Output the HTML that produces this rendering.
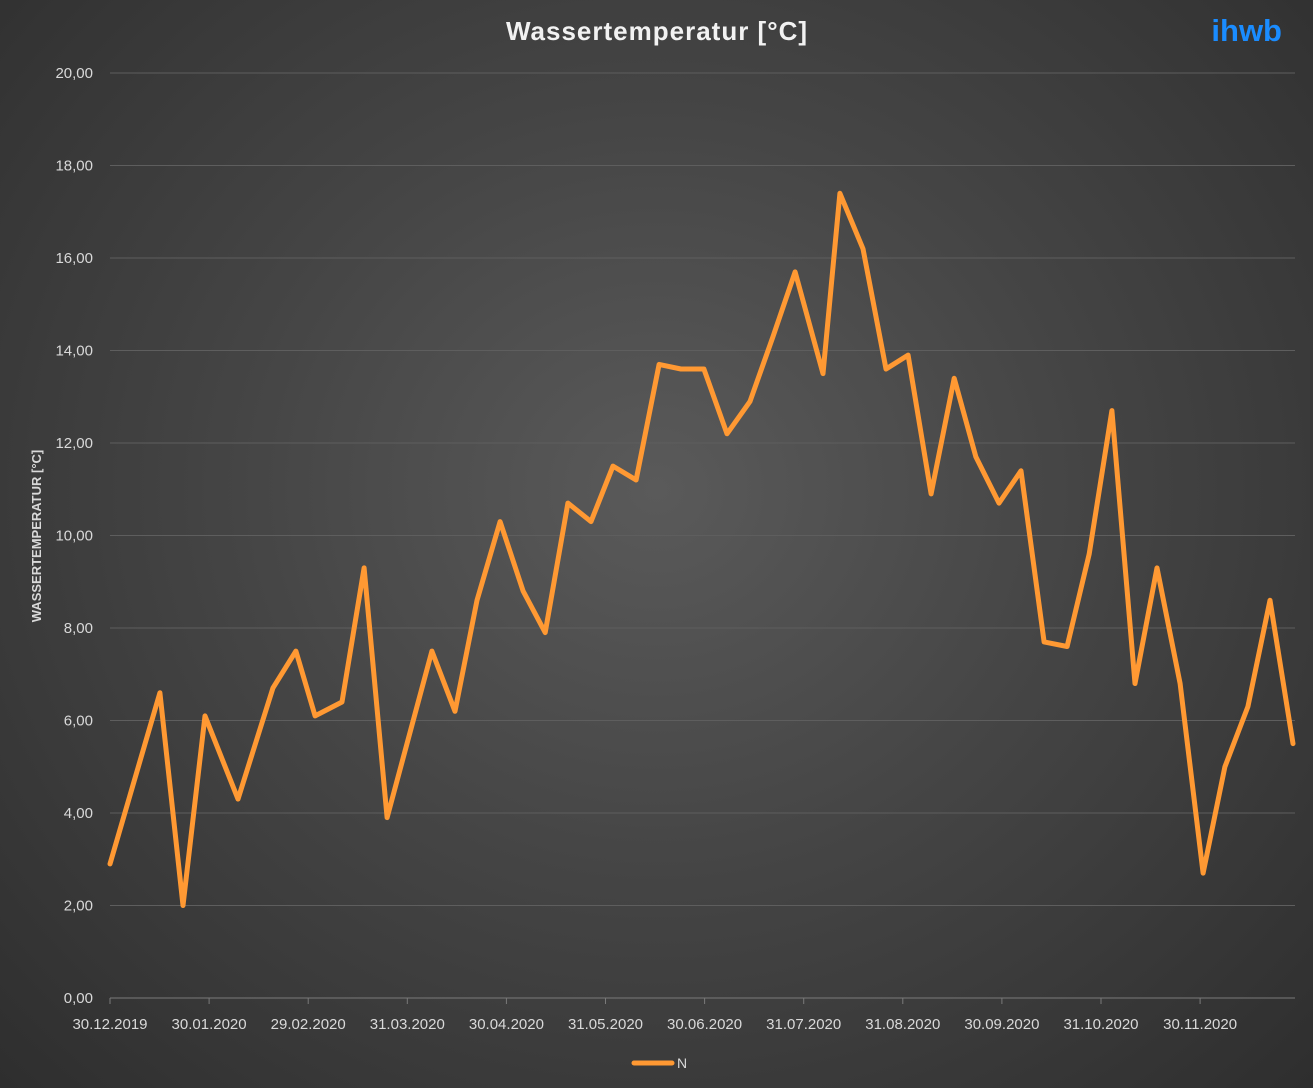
<!DOCTYPE html>
<html><head><meta charset="utf-8"><style>
html,body{margin:0;padding:0;width:1313px;height:1088px;overflow:hidden;}
body{background:radial-gradient(ellipse at 50% 45%,#5a5a5a 0%,#454545 45%,#2e2e2e 100%);font-family:"Liberation Sans",sans-serif;}
svg{position:absolute;left:0;top:0;}
</style></head><body>
<svg id="chart" width="1313" height="1088" xmlns="http://www.w3.org/2000/svg">
<text x="657" y="40" text-anchor="middle" font-size="26" font-weight="bold" fill="#f2f2f2" letter-spacing="1">Wassertemperatur [°C]</text>
<text x="1282" y="41" text-anchor="end" font-size="31" font-weight="bold" fill="#1a8cff">ihwb</text>
<text transform="translate(41,536) rotate(-90)" text-anchor="middle" font-size="13" font-weight="bold" fill="#d9d9d9">WASSERTEMPERATUR [°C]</text>
<g id="grid"></g><g id="yt"></g><g id="xt"></g><g id="series"></g>
<g>
<line x1="634" y1="1063" x2="672" y2="1063" stroke="#ff9933" stroke-width="5" stroke-linecap="round"/>
<text x="677" y="1068" font-size="14" fill="#d9d9d9">N</text>
</g>
</svg>
<script>
const yTicks=[0,2,4,6,8,10,12,14,16,18,20];
const xLabels=["30.12.2019","30.01.2020","29.02.2020","31.03.2020","30.04.2020","31.05.2020","30.06.2020","31.07.2020","31.08.2020","30.09.2020","31.10.2020","30.11.2020"];
const days=[0,15.6,22.8,29.7,40,50.9,58.1,64.1,72.5,79.4,86.6,100.6,107.8,114.7,121.9,129.1,136,143.1,150.3,157.2,164.4,171.6,178.4,185.6,192.8,200,207.2,214.1,222.8,228.1,235.3,242.5,249.4,256.6,263.8,270.6,277.8,284.7,291.9,299.1,306,313.1,320.3,327.2,334.4,341.6,348.4,355.6,362.5,369.7];
const temps=[2.9,6.6,2.0,6.1,4.3,6.7,7.5,6.1,6.4,9.3,3.9,7.5,6.2,8.6,10.3,8.8,7.9,10.7,10.3,11.5,11.2,13.7,13.6,13.6,12.2,12.9,14.3,15.7,13.5,17.4,16.2,13.6,13.9,10.9,13.4,11.7,10.7,11.4,7.7,7.6,9.6,12.7,6.8,9.3,6.8,2.7,5.0,6.3,8.6,5.5];
const NS="http://www.w3.org/2000/svg";
const X0=110,Y0=998,PX_PER_DAY=3.2;
function xs(d){return X0+d*PX_PER_DAY;}
function ys(v){return Y0-v*46.25;}
function mk(t,a,p){const e=document.createElementNS(NS,t);for(const k in a)e.setAttribute(k,a[k]);p.appendChild(e);return e;}
const grid=document.getElementById('grid'),yt=document.getElementById('yt'),xt=document.getElementById('xt'),ser=document.getElementById('series');
yTicks.forEach(v=>{
 const l=mk('line',{x1:110,x2:1295,y1:ys(v),y2:ys(v),stroke:v===0?'#7a7a7a':'#5e5e5e','stroke-width':1},grid);
 
 
 const t=mk('text',{x:93,y:ys(v)+5,'text-anchor':'end','font-size':15,fill:'#d9d9d9'},yt);
 t.textContent=v.toFixed(2).replace('.',',');
 
 
});
xLabels.forEach((s,i)=>{
 const x=110+i*99.1;
 const tk=mk('line',{x1:x,x2:x,y1:998,y2:1004,stroke:'#7a7a7a'},xt);
 
 
 const t=mk('text',{x:x,y:1029,'text-anchor':'middle','font-size':15,fill:'#d9d9d9'},xt);
 t.textContent=s;
 
 
});
const pts=temps.map((v,i)=>xs(days[i]).toFixed(1)+','+ys(v).toFixed(1)).join(' ');
const pl=mk('polyline',{points:pts,fill:'none',stroke:'#ff9933','stroke-width':5,'stroke-linejoin':'round','stroke-linecap':'round'},ser);


</script>
</body></html>
